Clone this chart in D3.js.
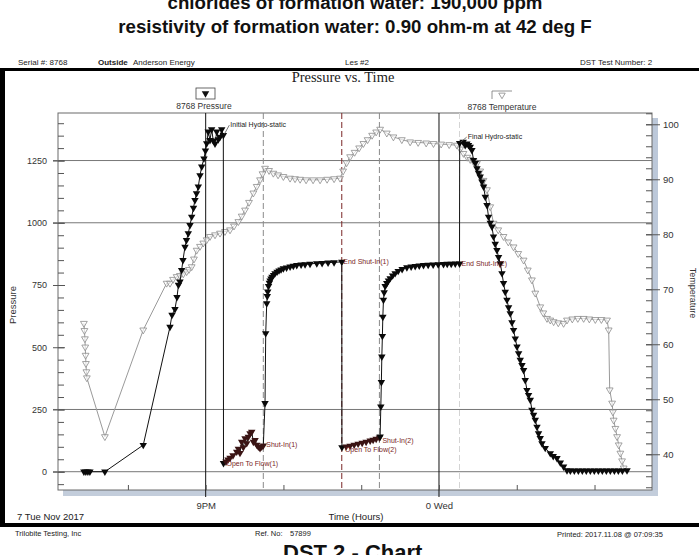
<!DOCTYPE html>
<html>
<head>
<meta charset="utf-8">
<title>DST 2 - Chart</title>
<script src="https://cdn.jsdelivr.net/npm/d3@7"></script>
<style>
  body { margin: 0; background: #fff; }
  svg { display: block; }
  text { font-family: "Liberation Sans", Arial, sans-serif; fill: #222; }
</style>
</head>
<body>
<svg id="chart" width="699" height="555"></svg>
<script>
'use strict';

/***** DATA *****/
// hours counted from 7 Nov 2017 00:00 (24 = midnight, Wed)
const PRESSURE_HOURS = [
  19.434, 19.459, 19.485, 19.511, 19.704, 20.197,
  20.541, 20.567, 20.605, 20.631, 20.650, 20.669, 20.691, 20.708, 20.734, 20.753,
  20.776, 20.798, 20.820, 20.843, 20.862, 20.882, 20.905, 20.927, 20.949, 20.978,
  20.997, 21.013, 21.033, 21.055, 21.077, 21.098, 21.120, 21.142, 21.162, 21.184,
  21.206, 21.227,
  21.229, 21.261, 21.287, 21.313, 21.351, 21.399, 21.420, 21.441, 21.463, 21.484,
  21.506, 21.528, 21.548, 21.570, 21.592, 21.613, 21.635, 21.656, 21.677, 21.699,
  21.721, 21.741,
  21.763, 21.772, 21.785, 21.792, 21.798, 21.808, 21.819, 21.828, 21.840, 21.853,
  21.873, 21.892, 21.918, 21.943, 21.969, 21.999, 22.040, 22.085, 22.127, 22.171,
  22.227, 22.278, 22.342, 22.429, 22.497, 22.574, 22.651, 22.750,
  22.752, 22.806, 22.857, 22.909, 22.960, 23.012, 23.063, 23.115, 23.153, 23.192,
  23.234,
  23.243, 23.252, 23.259, 23.265, 23.272, 23.278, 23.286, 23.295, 23.308, 23.329,
  23.350, 23.372, 23.404, 23.436, 23.475, 23.526, 23.587, 23.642, 23.694, 23.746,
  23.801, 23.861, 23.925, 23.990, 24.058, 24.106, 24.157, 24.209, 24.264,
  24.266, 24.311, 24.337, 24.359, 24.380, 24.402, 24.423, 24.444, 24.466, 24.488,
  24.508, 24.530, 24.552, 24.573, 24.595, 24.617, 24.637, 24.659, 24.681, 24.701,
  24.723, 24.745, 24.766, 24.788, 24.810, 24.830, 24.852, 24.874, 24.895, 24.916,
  24.938, 24.959, 24.981, 25.003, 25.024, 25.045, 25.067, 25.088, 25.109, 25.131,
  25.152, 25.174, 25.195, 25.216, 25.238, 25.260, 25.280, 25.302, 25.324, 25.366,
  25.431, 25.469, 25.517, 25.560, 25.602, 25.646,
  25.689, 25.740, 25.792, 25.843, 25.894, 25.946, 25.997, 26.049, 26.100, 26.152,
  26.203, 26.255, 26.306, 26.358, 26.418
];
const PRESSURE_PSI = [
  0, 0, 0, 0, 0, 107,
  582, 630, 653, 701, 750, 763, 810, 850, 903, 930,
  957, 990, 1024, 1060, 1091, 1118, 1145, 1190, 1225, 1258,
  1290, 1319, 1366, 1332, 1375, 1330, 1318, 1366, 1335, 1345,
  1375, 1352,
  34, 40, 48, 55, 65, 80, 92, 75, 120, 98,
  134, 114, 140, 154, 160, 120, 127, 108, 100, 94,
  100, 105,
  275, 556, 676, 705, 723, 745, 758, 768, 776, 783,
  790, 797, 803, 808, 812, 817, 820, 824, 827, 830,
  832, 833, 835, 837, 838, 840, 841, 843,
  98, 101, 104, 108, 112, 116, 120, 125, 128, 132,
  137,
  141, 261, 360, 462, 545, 622, 690, 720, 745, 757,
  768, 777, 788, 797, 806, 814, 821, 824, 826, 828,
  830, 831, 832, 833, 834, 835, 835, 836, 836,
  1320, 1325, 1312, 1318, 1312, 1305, 1292, 1252, 1240, 1218,
  1200, 1185, 1165, 1145, 1104, 1071, 1024, 1000, 984, 944,
  915, 890, 862, 837, 797, 757, 722, 690, 660, 636,
  600, 569, 535, 502, 475, 449, 428, 408, 368, 328,
  308, 288, 248, 228, 208, 180, 154, 135, 114, 95,
  74, 62, 54, 36, 20, 5,
  4, 4, 4, 4, 4, 4, 4, 4, 4, 4,
  4, 4, 4, 4, 5
];

const TEMP_HOURS = [
  19.434, 19.441, 19.447, 19.451, 19.456, 19.460, 19.466, 19.472, 19.704, 20.197,
  20.498, 20.541, 20.580, 20.627, 20.669, 20.712, 20.755, 20.785, 20.820, 20.849,
  20.884, 20.927, 20.969, 21.013, 21.055, 21.120, 21.184, 21.248, 21.313, 21.364,
  21.420, 21.463, 21.506, 21.557, 21.613, 21.656, 21.699, 21.731, 21.763, 21.815,
  21.870, 21.931, 21.999, 22.085, 22.149, 22.214, 22.291, 22.381, 22.471, 22.561,
  22.651, 22.728, 22.767, 22.812, 22.857, 22.915, 22.973, 23.028, 23.082, 23.140,
  23.192, 23.243, 23.329, 23.414, 23.522, 23.629, 23.732, 23.835, 23.929, 24.028,
  24.131, 24.230, 24.273, 24.315, 24.363, 24.402, 24.444, 24.488, 24.530, 24.573,
  24.617, 24.659, 24.701, 24.762, 24.830, 24.891, 24.959, 25.019, 25.088, 25.142,
  25.195, 25.238, 25.302, 25.341, 25.389, 25.431, 25.474, 25.534, 25.602, 25.646,
  25.714, 25.785, 25.860, 25.933, 26.010, 26.088, 26.161, 26.182, 26.195, 26.226,
  26.236, 26.246, 26.268, 26.290, 26.311, 26.332, 26.354, 26.375
];
const TEMP_DEGF = [
  63.8, 62.5, 61.0, 59.5, 58.0, 56.5, 55.0, 53.9, 43.2, 62.6,
  71.1, 71.1, 71.8, 72.3, 72.5, 72.8, 73.2, 73.6, 74.1, 75.5,
  77.1, 77.8, 78.4, 79.0, 79.6, 79.9, 80.2, 80.5, 80.8, 81.5,
  82.3, 83.3, 84.4, 85.8, 87.5, 88.7, 89.9, 91.0, 92.0, 91.6,
  91.1, 90.8, 90.5, 90.2, 90.1, 90.0, 89.9, 89.9, 89.9, 90.0,
  90.1, 90.2, 91.5, 93.0, 94.1, 94.9, 95.7, 96.5, 97.2, 98.0,
  98.6, 99.1, 98.4, 97.7, 97.2, 96.8, 96.7, 96.6, 96.5, 96.4,
  96.3, 96.2, 95.5, 94.7, 94.0, 93.6, 93.2, 92.9, 91.5, 89.8,
  88.1, 85.0, 82.0, 80.8, 79.6, 78.6, 77.7, 76.5, 75.3, 73.5,
  71.7, 69.3, 66.8, 65.7, 64.7, 64.4, 64.1, 63.9, 63.8, 64.4,
  64.6, 64.7, 64.7, 64.6, 64.5, 64.5, 64.4, 62.6, 51.7, 49.3,
  47.7, 46.2, 44.7, 43.2, 41.7, 40.2, 38.8, 37.5
];

const EVENT_NAMES = ['Initial Hydro-static', 'Open To Flow(1)', 'Shut-In(1)', 'End Shut-In(1)',
                     'Open To Flow(2)', 'Shut-In(2)', 'End Shut-In(2)', 'Final Hydro-static'];
const EVENT_HOURS = [21.227, 21.229, 21.741, 22.750, 22.752, 23.234, 24.264, 24.266];
const EVENT_PSI = [1352, 34, 105, 843, 98, 137, 836, 1320];

const PRESSURE_TICKS = [0, 250, 500, 750, 1000, 1250];
const PRESSURE_GRID = [0, 250, 1000, 1250];
const TEMP_TICKS = [40, 50, 60, 70, 80, 90, 100];
const TIME_TICKS = [20, 21, 22, 23, 24, 25, 26];
const TIME_LABEL_HOURS = [21, 24];
const TIME_LABELS = ['9PM', '0 Wed'];

/***** LAYOUT *****/
const PLOT = {left: 58, right: 652, top: 113, bottom: 490};
const RED = '#7a2626';
// label offset from the event point, colour, and the style of its vertical marker line
const EVENT_STYLE = [
  {dx: 7, dy: -8, color: '#222', leader: true},
  {dx: 3, dy: 2.5, color: RED},
  {dx: 3, dy: 1, color: RED, line: '#8a8a8a'},
  {dx: 1.5, dy: 2.5, color: RED, line: RED},
  {dx: 3, dy: 4.5, color: RED},
  {dx: 3, dy: 5.5, color: RED, line: '#8a8a8a'},
  {dx: 2, dy: 2.5, color: RED, line: '#d4d4d4'},
  {dx: 8, dy: -4, color: '#222', leader: true}
];

const svg = d3.select('#chart');

const x = d3.scaleLinear().domain([19.101, 26.739]).range([PLOT.left, PLOT.right]);
const yP = d3.scaleLinear().domain([-73.5, 1441]).range([PLOT.bottom, PLOT.top]);
const yT = d3.scaleLinear().domain([33.5, 102.05]).range([PLOT.bottom, PLOT.top]);

function addText(parent, str, tx, ty, size, opts) {
  opts = opts || {};
  const t = parent.append('text')
    .attr('x', tx).attr('y', ty)
    .attr('font-size', size)
    .attr('text-anchor', opts.anchor || 'start')
    .text(str);
  if (opts.weight) t.attr('font-weight', opts.weight);
  if (opts.family) t.style('font-family', opts.family);
  if (opts.fill) t.style('fill', opts.fill);
  if (opts.rotate) t.attr('transform', 'rotate(' + opts.rotate + ',' + tx + ',' + ty + ')');
  return t;
}

/***** PAGE *****/
addText(svg, 'chlorides of formation water: 190,000 ppm', 355, 9, 18.7, {anchor: 'middle', weight: 'bold', fill: '#111'});
addText(svg, 'resistivity of formation water: 0.90 ohm-m at 42 deg F', 355, 33, 18.7, {anchor: 'middle', weight: 'bold', fill: '#111'});

const head = svg.append('g').style('fill', '#333');
addText(head, 'Serial #:  8768', 18, 65, 8);
addText(head, 'Outside', 98, 65, 8, {weight: 'bold'});
addText(head, 'Anderson Energy', 133, 65, 8);
addText(head, 'Les #2', 345, 65, 8);
addText(head, 'DST Test Number: 2', 580, 65, 8);

// heavy page frame
svg.append('rect').attr('x', 0).attr('y', 68).attr('width', 699).attr('height', 3).attr('fill', '#000');
svg.append('rect').attr('x', 0).attr('y', 68).attr('width', 5).attr('height', 459).attr('fill', '#000');
svg.append('rect').attr('x', 0).attr('y', 523).attr('width', 699).attr('height', 4).attr('fill', '#000');

addText(svg, 'Pressure vs. Time', 343, 82, 14.5, {anchor: 'middle', family: '"Liberation Serif", "Times New Roman", serif'});

/***** PLOT FRAME *****/
svg.append('rect')
   .attr('x', PLOT.right).attr('y', PLOT.top + 5)
   .attr('width', 6).attr('height', PLOT.bottom - PLOT.top + 1)
   .attr('fill', '#bcc8d9');
svg.append('rect')
   .attr('x', PLOT.left + 5).attr('y', PLOT.bottom)
   .attr('width', PLOT.right - PLOT.left + 1).attr('height', 6)
   .attr('fill', '#c3cddb');
svg.append('rect')
   .attr('x', PLOT.left).attr('y', PLOT.top)
   .attr('width', PLOT.right - PLOT.left).attr('height', PLOT.bottom - PLOT.top)
   .attr('fill', '#fff').attr('stroke', '#6a6a6a').attr('stroke-width', 1);

const g = svg.append('g');

// horizontal grid
g.selectAll('.grid')
 .data(PRESSURE_GRID)
 .enter().append('line')
 .attr('x1', PLOT.left - 5).attr('x2', PLOT.right)
 .attr('y1', d => yP(d)).attr('y2', d => yP(d))
 .attr('stroke', '#777').attr('stroke-width', 1);

// event marker lines
EVENT_HOURS.forEach((h, i) => {
  const st = EVENT_STYLE[i];
  if (!st.line) return;
  g.append('line')
   .attr('x1', x(h)).attr('x2', x(h))
   .attr('y1', PLOT.top).attr('y2', PLOT.bottom)
   .attr('stroke', st.line).attr('stroke-width', 1)
   .attr('stroke-dasharray', '6,3');
});

// clock lines at 9PM and midnight
g.selectAll('.clock')
 .data(TIME_LABEL_HOURS)
 .enter().append('line')
 .attr('x1', d => x(d)).attr('x2', d => x(d))
 .attr('y1', PLOT.top).attr('y2', PLOT.bottom + 7)
 .attr('stroke', '#111').attr('stroke-width', 1);

/***** AXES *****/
function styleAxis(sel, size) {
  sel.select('.domain').remove();
  sel.selectAll('text').attr('font-size', size).style('fill', '#333')
     .style('font-family', '"Liberation Sans", Arial, sans-serif');
  sel.selectAll('line').attr('stroke', '#555');
}

g.append('g')
 .attr('transform', 'translate(' + PLOT.left + ',0)')
 .call(d3.axisLeft(yP).tickValues(d3.range(-50, 1441, 50)).tickSize(-6).tickFormat(''))
 .call(s => styleAxis(s, 9));
g.append('g')
 .attr('transform', 'translate(' + PLOT.left + ',0)')
 .call(d3.axisLeft(yP).tickValues(PRESSURE_TICKS).tickSize(5).tickPadding(6).tickFormat(d3.format('d')))
 .call(s => styleAxis(s, 9))
 .call(s => s.selectAll('line').attr('x1', 7));

g.append('g')
 .attr('transform', 'translate(' + PLOT.right + ',0)')
 .call(d3.axisRight(yT).tickValues(d3.range(34, 103, 2)).tickSize(-6).tickFormat(''))
 .call(s => styleAxis(s, 9));
g.append('g')
 .attr('transform', 'translate(' + PLOT.right + ',0)')
 .call(d3.axisRight(yT).tickValues(TEMP_TICKS).tickSize(8).tickPadding(3).tickFormat(d3.format('d')))
 .call(s => styleAxis(s, 9.5))
 .call(s => s.selectAll('line').attr('x1', -6));

g.append('g')
 .attr('transform', 'translate(0,' + PLOT.bottom + ')')
 .call(d3.axisBottom(x).tickValues(TIME_TICKS).tickSize(-5).tickFormat(''))
 .call(s => styleAxis(s, 9));
g.append('g')
 .attr('transform', 'translate(0,' + PLOT.bottom + ')')
 .call(d3.axisBottom(x).tickValues(TIME_LABEL_HOURS).tickSize(0).tickPadding(12)
        .tickFormat((d, i) => TIME_LABELS[i]))
 .call(s => styleAxis(s, 9.5));

addText(svg, 'Pressure', 16, 305, 9.5, {anchor: 'middle', rotate: -90, fill: '#333'});
addText(svg, 'Temperature', 690, 293, 9, {anchor: 'middle', rotate: 90, fill: '#333'});

/***** SERIES *****/
const pressure = PRESSURE_HOURS.map((h, i) => ({h: h, v: PRESSURE_PSI[i]}));
const temperature = TEMP_HOURS.map((h, i) => ({h: h, v: TEMP_DEGF[i]}));
const triangle = size => d3.symbol().type(d3.symbolTriangle).size(size)();

g.append('path')
 .attr('fill', 'none').attr('stroke', '#9a9a9a').attr('stroke-width', 1)
 .attr('d', d3.line().x(d => x(d.h)).y(d => yT(d.v))(temperature));
g.selectAll('.temp')
 .data(temperature)
 .enter().append('path')
 .attr('d', triangle(20))
 .attr('transform', d => 'translate(' + x(d.h) + ',' + yT(d.v) + ') rotate(180)')
 .attr('fill', '#fff').attr('fill-opacity', 0.6)
 .attr('stroke', '#8c8c8c').attr('stroke-width', 0.8);

g.append('path')
 .attr('fill', 'none').attr('stroke', '#111').attr('stroke-width', 1)
 .attr('d', d3.line().x(d => x(d.h)).y(d => yP(d.v))(pressure));
const inFlow = h => (h > EVENT_HOURS[1] && h <= EVENT_HOURS[2]) || (h > EVENT_HOURS[4] && h <= EVENT_HOURS[5]);
g.selectAll('.press')
 .data(pressure)
 .enter().append('path')
 .attr('d', triangle(24))
 .attr('transform', d => 'translate(' + x(d.h) + ',' + yP(d.v) + ') rotate(180)')
 .attr('fill', d => inFlow(d.h) ? '#3a1414' : '#0a0a0a');

// event labels
EVENT_NAMES.forEach((name, i) => {
  const st = EVENT_STYLE[i];
  const px = x(EVENT_HOURS[i]);
  const py = yP(EVENT_PSI[i]);
  if (st.leader) {
    g.append('line')
     .attr('x1', px + 1).attr('y1', py - 1)
     .attr('x2', px + st.dx - 1).attr('y2', py + st.dy - 2)
     .attr('stroke', '#555').attr('stroke-width', 0.8);
  }
  addText(g, name, px + st.dx, py + st.dy, 7, {fill: st.color});
});

/***** LEGEND *****/
const leg = svg.append('g');
leg.append('rect').attr('x', 196).attr('y', 88).attr('width', 19).attr('height', 11)
   .attr('fill', 'none').attr('stroke', '#444').attr('stroke-width', 0.8);
leg.append('path').attr('d', triangle(24))
   .attr('transform', 'translate(205.5,93.5) rotate(180)').attr('fill', '#111');
addText(leg, '8768 Pressure', 204, 109, 8.5, {anchor: 'middle', fill: '#333'});

leg.append('path').attr('d', 'M492,99V91H512')
   .attr('fill', 'none').attr('stroke', '#777').attr('stroke-width', 0.8);
leg.append('path').attr('d', triangle(18))
   .attr('transform', 'translate(502,95) rotate(180)')
   .attr('fill', 'none').attr('stroke', '#888').attr('stroke-width', 0.8);
addText(leg, '8768 Temperature', 502, 110, 8.5, {anchor: 'middle', fill: '#333'});

/***** FOOTER *****/
const foot = svg.append('g').style('fill', '#333');
addText(foot, '7 Tue Nov 2017', 17, 520, 9.5);
addText(foot, 'Time (Hours)', 356, 520, 9.5, {anchor: 'middle'});
addText(foot, 'Trilobite Testing, Inc', 15, 536, 7.5);
addText(foot, 'Ref. No:', 255, 536, 7.5);
addText(foot, '57899', 290, 536, 7.5);
addText(foot, 'Printed: 2017.11.08 @ 07:09:35', 557, 537, 7.5);
addText(svg, 'DST 2 - Chart', 283, 560, 22, {weight: 'bold', fill: '#111'});
</script>
</body>
</html>
